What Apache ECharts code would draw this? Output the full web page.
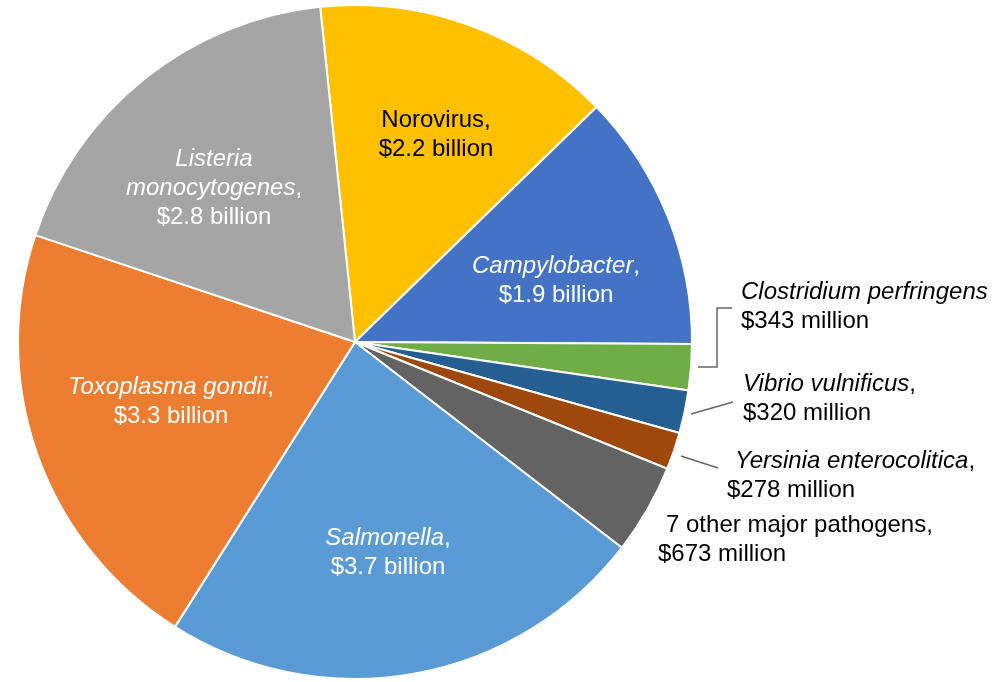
<!DOCTYPE html>
<html><head><meta charset="utf-8">
<script src="https://cdn.jsdelivr.net/npm/echarts@6/dist/echarts.min.js"></script>
<style>html,body{margin:0;padding:0;background:#fff}#c{width:1007px;height:682px}</style>
</head><body><div id="c"></div>
<script>
// Data (values in billions of US dollars, estimated from slice angles and labels)
const names = ['Norovirus', 'Campylobacter', 'Clostridium perfringens', 'Vibrio vulnificus', 'Yersinia enterocolitica', '7 other major pathogens', 'Salmonella', 'Toxoplasma gondii', 'Listeria\nmonocytogenes'];
const values = [2.24, 1.93, 0.343, 0.320, 0.278, 0.673, 3.667, 3.30, 2.84];
const italic = [false, true, true, true, true, false, true, true, true];
const comma = [true, true, false, true, true, true, true, true, true];

// Styles / layout
const colors = ['#FFC000', '#4472C4', '#70AD47', '#255E91', '#9E480E', '#636363', '#5B9BD5', '#ED7D31', '#A5A5A5'];
const textColors = ['#000', '#fff', '#000', '#000', '#000', '#000', '#fff', '#fff', '#fff'];
const inside = [true, true, false, false, false, false, true, true, true];
const indent = [false, false, false, false, true, true, false, false, false];
const labelPos = [
  [436, 135, 'center'], [556, 281, 'center'], [741, 307, 'left'], [743, 399, 'left'],
  [727, 476, 'left'], [658, 540, 'left'], [388, 553, 'center'], [171, 402, 'center'], [214, 188, 'center']
];
const leaderLines = {
  2: [[698, 367], [717, 367], [717, 308], [732, 308]],
  3: [[691, 414], [733, 402]],
  4: [[681, 456], [718, 468]]
};

function fmtValue(v) {
  return v >= 1 ? '$' + v.toFixed(1) + ' billion' : '$' + Math.round(v * 1000) + ' million';
}
function fmtLabel(i) {
  const lines = names[i].split('\n');
  const st = italic[i] ? 'i' : 'n';
  let s = lines.map((l, k) => '{' + st + '|' + l + '}' + (k === lines.length - 1 && comma[i] ? '{n|,}' : '')).join('\n');
  if (indent[i]) s = '{sp|}' + s;
  return s + '\n{n|' + fmtValue(values[i]) + '}';
}

const data = values.map((v, i) => ({
  value: v,
  name: names[i],
  itemStyle: { color: colors[i] },
  label: { position: inside[i] ? 'inside' : 'outside', color: textColors[i] },
  labelLine: { show: !!leaderLines[i] }
}));

const chart = echarts.init(document.getElementById('c'), null, { renderer: 'canvas' });
chart.setOption({
  backgroundColor: '#fff',
  animation: false,
  series: [{
    type: 'pie',
    center: [355, 342],
    radius: 337,
    startAngle: 95.93,
    clockwise: true,
    avoidLabelOverlap: false,
    itemStyle: { borderColor: '#fff', borderWidth: 2 },
    label: {
      show: true,
      fontFamily: 'Liberation Sans, Arial, sans-serif',
      fontSize: 24,
      lineHeight: 29,
      alignTo: 'none',
      formatter: p => fmtLabel(p.dataIndex),
      rich: {
        n: { fontSize: 24, lineHeight: 29, fontFamily: 'Liberation Sans, Arial, sans-serif' },
        i: { fontSize: 24, lineHeight: 29, fontStyle: 'italic', fontFamily: 'Liberation Sans, Arial, sans-serif' },
        sp: { width: 8, lineHeight: 29 }
      }
    },
    labelLine: { lineStyle: { color: '#666666', width: 1.5 }, smooth: false },
    labelLayout: p => {
      const pos = labelPos[p.dataIndex];
      const r = { x: pos[0], y: pos[1], align: pos[2], verticalAlign: 'middle' };
      if (leaderLines[p.dataIndex]) r.labelLinePoints = leaderLines[p.dataIndex];
      return r;
    },
    data: data
  }]
});
</script>
</body></html>
